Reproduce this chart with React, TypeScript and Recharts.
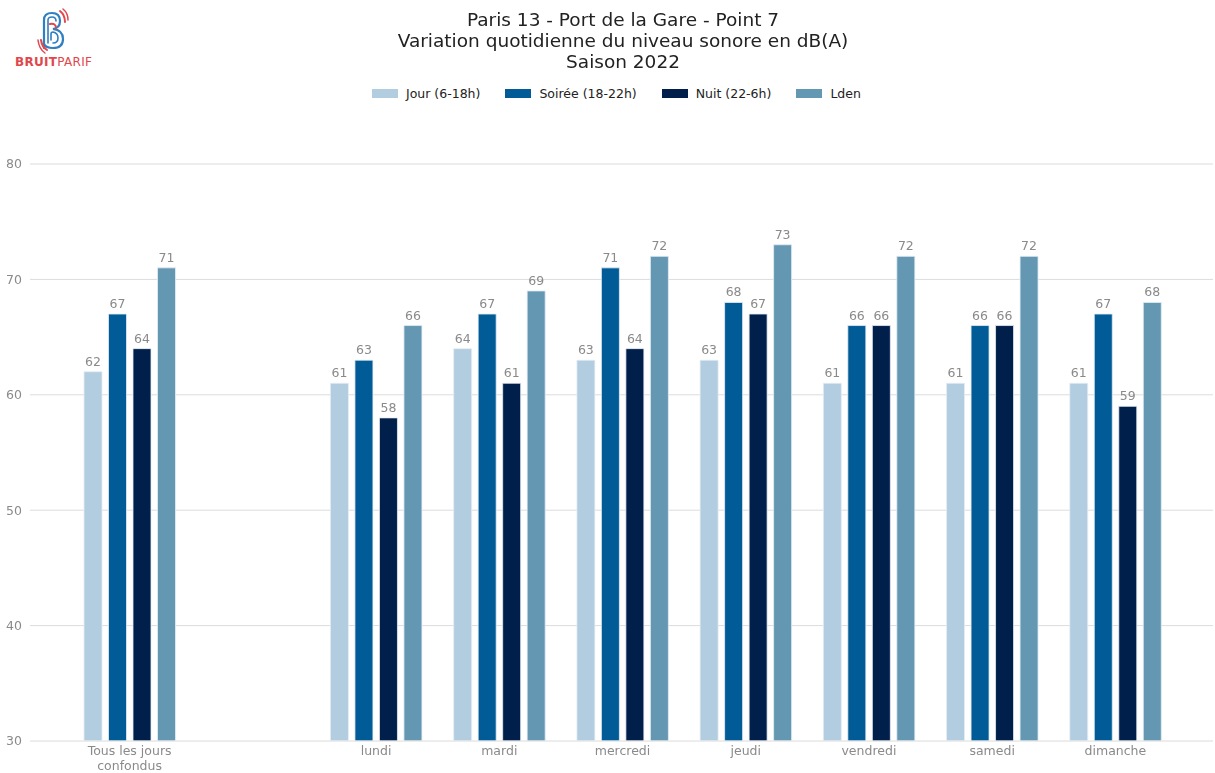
import React from "react";
import { BarChart, Bar, XAxis, YAxis, CartesianGrid, LabelList } from "recharts";

const categories = ["Tous les jours\nconfondus", "", "lundi", "mardi", "mercredi", "jeudi", "vendredi", "samedi", "dimanche"];
const jour = [62, null, 61, 64, 63, 63, 61, 61, 61];
const soiree = [67, null, 63, 67, 71, 68, 66, 66, 67];
const nuit = [64, null, 58, 61, 64, 67, 66, 66, 59];
const lden = [71, null, 66, 69, 72, 73, 72, 72, 68];
const yTicks = [30, 40, 50, 60, 70, 80];

const seriesDefs = [
  { key: "jour", name: "Jour (6-18h)", color: "#b3cde0" },
  { key: "soiree", name: "Soirée (18-22h)", color: "#005b96" },
  { key: "nuit", name: "Nuit (22-6h)", color: "#011f4b" },
  { key: "lden", name: "Lden", color: "#6497b1" },
];

const data = categories.map((c, i) => ({
  name: c,
  jour: jour[i],
  soiree: soiree[i],
  nuit: nuit[i],
  lden: lden[i],
}));

const FONT = "'DejaVu Sans', sans-serif";

const XTick = (props: any) => {
  const { x, payload } = props;
  const lines = String(payload.value).split("\n");
  const base = 755;
  return (
    <text x={x} y={base} textAnchor="middle" fill="#8a8a8a" fontSize={12.5} fontFamily={FONT}>
      {lines.map((l, i) => (
        <tspan key={i} x={x} dy={i === 0 ? 0 : 15}>{l}</tspan>
      ))}
    </text>
  );
};

const ValueLabel = (props: any) => {
  const { x, y, width, value } = props;
  if (value === null || value === undefined) return null;
  return (
    <text x={x + width / 2} y={y - 6} textAnchor="middle" fill="#8a8a8a" fontSize={12.5} fontFamily={FONT}>
      {value}
    </text>
  );
};

const Logo = () => (
  <div style={{ position: "absolute", left: 0, top: 0, width: 110, height: 78 }}>
    <svg width={110} height={56} style={{ position: "absolute", left: 0, top: 0 }}>
      <g fill="none" strokeLinecap="round">
        <path d="M44 48 L44 20 Q44 13 52 13 Q60 13 60 21 Q60 28 53 29 Q63 30 63 39 Q63 48 53 48 Q46 48 44 44" stroke="#2f7fc1" strokeWidth={2.2} />
        <path d="M48 43 L48 20 Q48 17 52 17 Q56 17 56 21" stroke="#2f7fc1" strokeWidth={1.6} />
        <path d="M51 40 L51 34 Q51 32 53 32 Q58 33 58 38 Q58 43 53 43" stroke="#2f7fc1" strokeWidth={1.6} />
        <path d="M50 24 Q56 23 56 28" stroke="#e2474c" strokeWidth={2} />
        <path d="M60 11 Q65 15 65 22" stroke="#e2474c" strokeWidth={2} />
        <path d="M63 9 Q68 13 68 20" stroke="#e2474c" strokeWidth={1.5} />
        <path d="M41 40 Q42 47 47 50" stroke="#e2474c" strokeWidth={2} />
        <path d="M38 40 Q39 49 45 53" stroke="#e2474c" strokeWidth={1.5} />
      </g>
    </svg>
    <div style={{ position: "absolute", left: 15, top: 55, fontFamily: FONT, fontSize: 12, color: "#e0474c", letterSpacing: 0.3, whiteSpace: "nowrap" }}>
      <span style={{ fontWeight: "bold" }}>BRUIT</span>PARIF
    </div>
  </div>
);

export default function App() {
  return (
    <div style={{ position: "fixed", left: 0, top: 0, width: 1215, height: 773, background: "#fff", fontFamily: FONT }}>
      <Logo />
      <div style={{ position: "absolute", left: 0, width: 1246, top: 9, textAlign: "center", fontSize: 18.5, lineHeight: "21px", color: "#222" }}>
        <div>Paris 13 - Port de la Gare - Point 7</div>
        <div>Variation quotidienne du niveau sonore en dB(A)</div>
        <div>Saison 2022</div>
      </div>
      <div style={{ position: "absolute", left: 372, top: 86, display: "flex", alignItems: "center", fontSize: 12.5, color: "#222" }}>
        {seriesDefs.map((s) => (
          <div key={s.key} style={{ display: "flex", alignItems: "center", marginRight: 25 }}>
            <div style={{ width: 26, height: 9, background: s.color, marginRight: 8 }} />
            <span>{s.name}</span>
          </div>
        ))}
      </div>
      <div style={{ position: "absolute", left: 0, top: 0 }}>
        <BarChart
          width={1215}
          height={773}
          data={data}
          margin={{ top: 164, right: 2, left: 0, bottom: 0 }}
          barSize={18}
          barGap={6.5}
        >
          <CartesianGrid vertical={false} stroke="#dcdcdc" strokeWidth={1} />
          <XAxis
            dataKey="name"
            height={32}
            padding={{ left: 38, right: 36 }}
            tick={<XTick />}
            tickLine={false}
            axisLine={{ stroke: "#ececec" }}
            interval={0}
          />
          <YAxis
            domain={[30, 80]}
            ticks={yTicks}
            width={30}
            axisLine={false}
            tickLine={false}
            tick={{ fill: "#8a8a8a", fontSize: 12.5, fontFamily: FONT }}
            allowDataOverflow
          />
          {seriesDefs.map((s) => (
            <Bar key={s.key} dataKey={s.key} name={s.name} fill={s.color} stroke="#e6eef5" strokeWidth={0.8} isAnimationActive={false}>
              <LabelList dataKey={s.key} content={<ValueLabel />} />
            </Bar>
          ))}
        </BarChart>
      </div>
    </div>
  );
}
